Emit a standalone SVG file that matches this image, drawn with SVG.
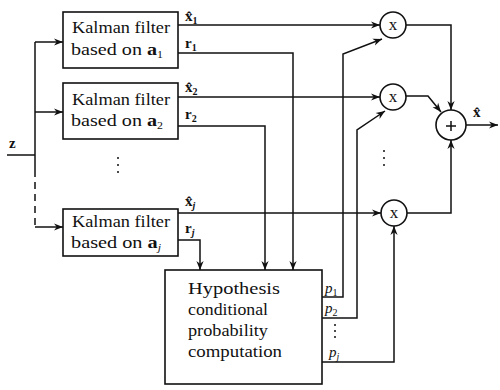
<svg xmlns="http://www.w3.org/2000/svg" width="500" height="390" viewBox="0 0 500 390">
<defs>
<marker id="ah" viewBox="0 0 10 10" refX="10" refY="5" markerWidth="9" markerHeight="9" markerUnits="userSpaceOnUse" orient="auto">
<path d="M0,1 L10,5 L0,9 L3,5 Z" fill="#111"/>
</marker>
<style>
.ln{fill:none;stroke:#111;stroke-width:1.5}
.bx{fill:#fff;stroke:#111;stroke-width:1.6}
.t{font-family:"Liberation Serif","DejaVu Serif",serif;font-size:17px;fill:#111}
.v{font-family:"Liberation Serif","DejaVu Serif",serif;font-size:15px;font-weight:bold;fill:#111}
.s{font-size:10px}
.p{font-family:"Liberation Serif","DejaVu Serif",serif;font-size:15px;font-style:italic;fill:#111}
.dot{fill:#111}
</style>
</defs>
<rect width="500" height="390" fill="#fff"/>
<g id="connectors">
<path class="ln" d="M7,155 H35"/>
<path class="ln" d="M35,42 V170"/>
<path class="ln" d="M35,170 V227" stroke-dasharray="7,5"/>
<path class="ln" d="M35,42 H63" marker-end="url(#ah)"/>
<path class="ln" d="M35,112 H63" marker-end="url(#ah)"/>
<path class="ln" d="M35,227 H63" marker-end="url(#ah)"/>
<path class="ln" d="M178,25 H380" marker-end="url(#ah)"/>
<path class="ln" d="M178,97 H380" marker-end="url(#ah)"/>
<path class="ln" d="M178,213 H381" marker-end="url(#ah)"/>
<path class="ln" d="M178,53 H293 V270" marker-end="url(#ah)"/>
<path class="ln" d="M178,126 H265 V270" marker-end="url(#ah)"/>
<path class="ln" d="M178,240 H200 V270" marker-end="url(#ah)"/>
<path class="ln" d="M322,297 H343 V54 L382,39" marker-end="url(#ah)"/>
<path class="ln" d="M322,318 H357 V130 L385,111" marker-end="url(#ah)"/>
<path class="ln" d="M322,362 H394 V226" marker-end="url(#ah)"/>
<path class="ln" d="M406,25 H451 V110" marker-end="url(#ah)"/>
<path class="ln" d="M406,96 H428 L441,112" marker-end="url(#ah)"/>
<path class="ln" d="M407,213 H451 V140" marker-end="url(#ah)"/>
<path class="ln" d="M466,125 H498" marker-end="url(#ah)"/>
</g>
<g id="kf1">
<rect class="bx" x="63" y="12" width="115" height="56"/>
<text class="t" x="72" y="33" textLength="98" lengthAdjust="spacingAndGlyphs">Kalman filter</text>
<text class="t" x="71" y="55" textLength="92" lengthAdjust="spacingAndGlyphs">based on <tspan font-weight="bold">a</tspan><tspan class="s" dy="3">1</tspan></text>
</g>
<g id="kf2">
<rect class="bx" x="63" y="83" width="115" height="56"/>
<text class="t" x="72" y="105" textLength="98" lengthAdjust="spacingAndGlyphs">Kalman filter</text>
<text class="t" x="71" y="126" textLength="92" lengthAdjust="spacingAndGlyphs">based on <tspan font-weight="bold">a</tspan><tspan class="s" dy="3">2</tspan></text>
</g>
<g id="kfj">
<rect class="bx" x="63" y="209" width="115" height="47"/>
<text class="t" x="72" y="227" textLength="98" lengthAdjust="spacingAndGlyphs">Kalman filter</text>
<text class="t" x="71" y="248" textLength="90" lengthAdjust="spacingAndGlyphs">based on <tspan font-weight="bold">a</tspan><tspan class="s" font-style="italic" dy="3">j</tspan></text>
</g>
<g id="hyp">
<rect class="bx" x="165" y="270" width="157" height="114"/>
<text class="t" x="188" y="294" textLength="92" lengthAdjust="spacingAndGlyphs">Hypothesis</text>
<text class="t" x="188" y="315" textLength="80" lengthAdjust="spacingAndGlyphs">conditional</text>
<text class="t" x="188" y="336" textLength="80" lengthAdjust="spacingAndGlyphs">probability</text>
<text class="t" x="188" y="357" textLength="94" lengthAdjust="spacingAndGlyphs">computation</text>
</g>
<g id="m1">
<circle class="bx" cx="393" cy="25" r="13"/>
<text class="t" x="393" y="30" text-anchor="middle">x</text>
</g>
<g id="m2">
<circle class="bx" cx="393" cy="97" r="13"/>
<text class="t" x="393" y="102" text-anchor="middle">x</text>
</g>
<g id="mj">
<circle class="bx" cx="394" cy="213" r="13"/>
<text class="t" x="394" y="218" text-anchor="middle">x</text>
</g>
<g id="sum">
<circle class="bx" cx="451" cy="125" r="15"/>
<path class="ln" d="M446,126 H456 M451,121 V131" stroke-width="1.2"/>
</g>
<g id="labels">
<text class="v" x="9" y="148">z</text>
<text class="v" x="185" y="21">x&#x302;<tspan class="s" dy="3">1</tspan></text>
<text class="v" x="185" y="48">r<tspan class="s" dy="3">1</tspan></text>
<text class="v" x="185" y="92">x&#x302;<tspan class="s" dy="3">2</tspan></text>
<text class="v" x="185" y="119">r<tspan class="s" dy="3">2</tspan></text>
<text class="v" x="185" y="206">x&#x302;<tspan class="s" font-style="italic" dy="3">j</tspan></text>
<text class="v" x="185" y="233">r<tspan class="s" font-style="italic" dy="3">j</tspan></text>
<text class="v" x="473" y="117">x&#x302;</text>
<text class="p" x="325" y="293">p<tspan class="s" font-style="normal" dy="3">1</tspan></text>
<text class="p" x="325" y="313">p<tspan class="s" font-style="normal" dy="3">2</tspan></text>
<text class="p" x="329" y="357">p<tspan class="s" dy="3">j</tspan></text>
</g>
<g id="dots">
<circle class="dot" cx="118" cy="158" r="1"/>
<circle class="dot" cx="118" cy="165" r="1"/>
<circle class="dot" cx="118" cy="172" r="1"/>
<circle class="dot" cx="384" cy="151" r="1"/>
<circle class="dot" cx="384" cy="158" r="1"/>
<circle class="dot" cx="384" cy="165" r="1"/>
<circle class="dot" cx="335" cy="325" r="1"/>
<circle class="dot" cx="335" cy="331" r="1"/>
<circle class="dot" cx="335" cy="337" r="1"/>
</g>
</svg>
